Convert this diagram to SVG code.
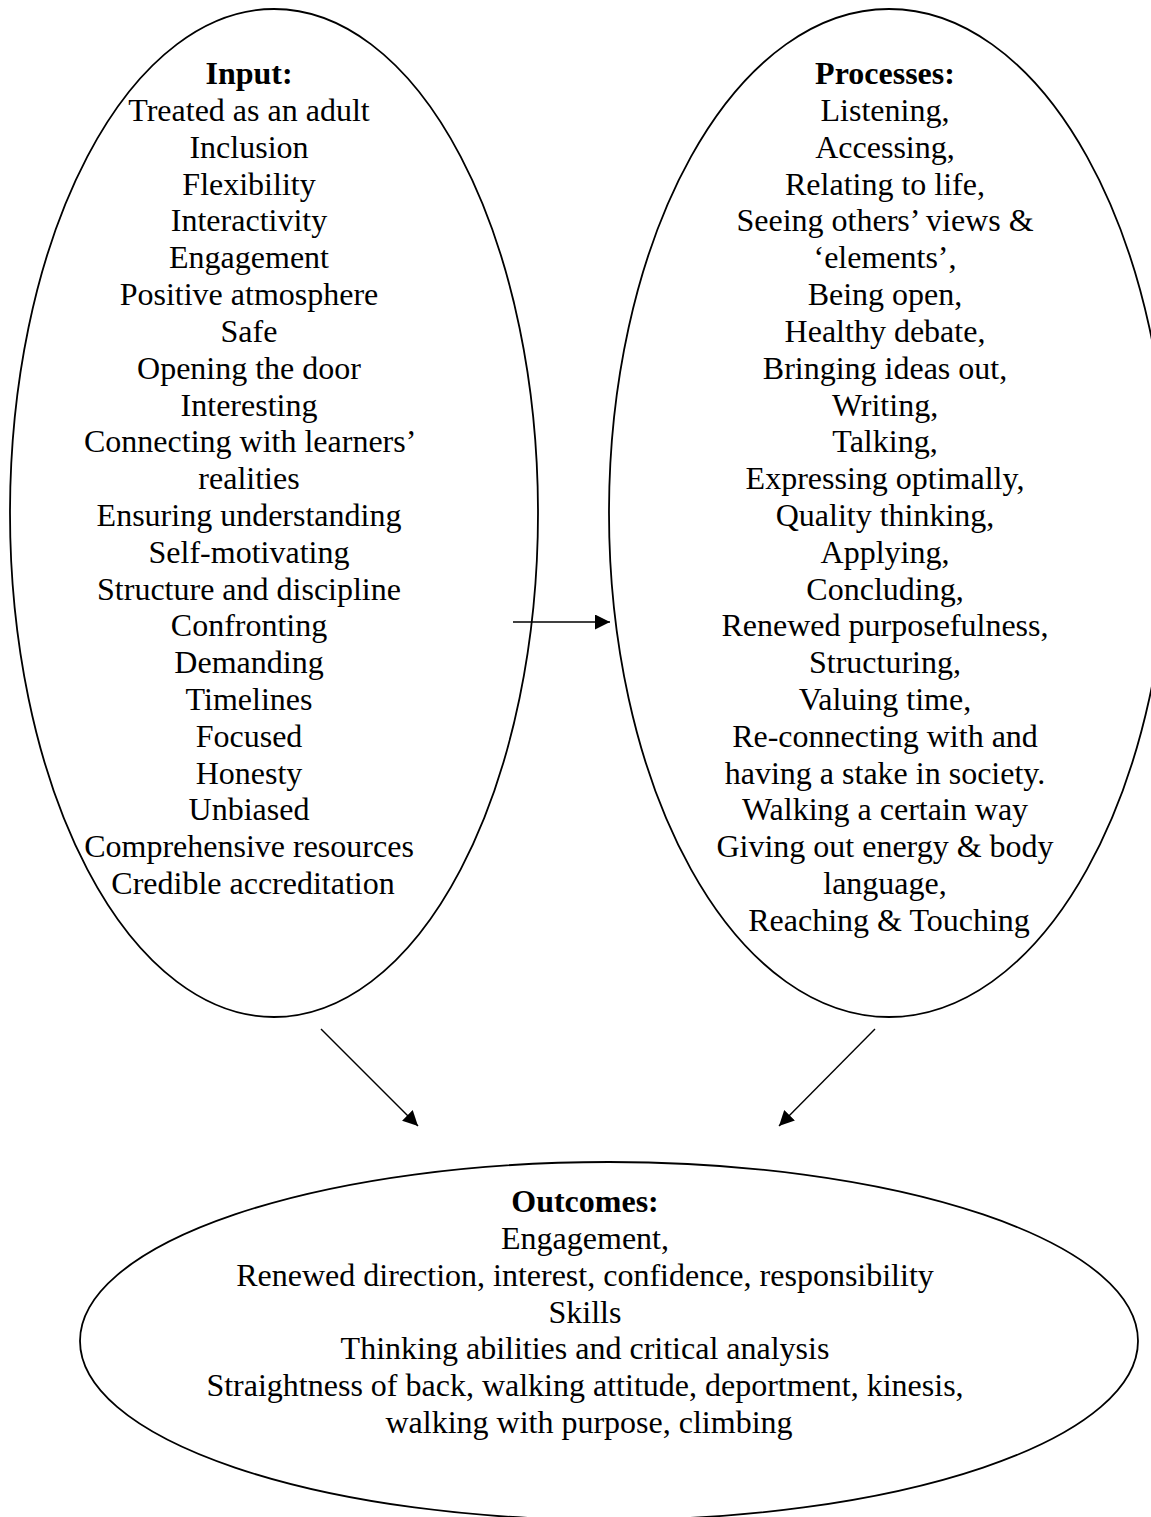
<svg xmlns="http://www.w3.org/2000/svg" width="1151" height="1517" viewBox="0 0 1151 1517">
<style>
.shape{fill:none;stroke:#000;stroke-width:1.8}
.t{font-family:"Liberation Serif","Times New Roman",serif;font-size:32px;fill:#000;text-anchor:middle}
.h{font-weight:bold}
.conn{stroke:#000;stroke-width:1.4;fill:none}
</style>
<defs>
<marker id="arr" viewBox="0 0 10 10" refX="10" refY="5" markerWidth="15" markerHeight="15" markerUnits="userSpaceOnUse" orient="auto">
<path d="M0,0 L10,5 L0,10 Z" fill="#000"/>
</marker>
</defs>
<rect width="1151" height="1517" fill="#fff"/>
<g id="input">
<ellipse class="shape" cx="274" cy="513" rx="264" ry="504"/>
<text class="t" x="253">
<tspan class="h" x="253" y="84">Input:</tspan>
<tspan x="253" y="121">Treated as an adult</tspan>
<tspan x="253" y="158">Inclusion</tspan>
<tspan x="253" y="195">Flexibility</tspan>
<tspan x="253" y="231">Interactivity</tspan>
<tspan x="253" y="268">Engagement</tspan>
<tspan x="253" y="305">Positive atmosphere</tspan>
<tspan x="253" y="342">Safe</tspan>
<tspan x="253" y="379">Opening the door</tspan>
<tspan x="253" y="416">Interesting</tspan>
<tspan x="253" y="452">Connecting with learners’</tspan>
<tspan x="253" y="489">realities</tspan>
<tspan x="253" y="526">Ensuring understanding</tspan>
<tspan x="253" y="563">Self-motivating</tspan>
<tspan x="253" y="600">Structure and discipline</tspan>
<tspan x="253" y="636">Confronting</tspan>
<tspan x="253" y="673">Demanding</tspan>
<tspan x="253" y="710">Timelines</tspan>
<tspan x="253" y="747">Focused</tspan>
<tspan x="253" y="784">Honesty</tspan>
<tspan x="253" y="820">Unbiased</tspan>
<tspan x="253" y="857">Comprehensive resources</tspan>
<tspan x="253" y="894">Credible accreditation</tspan>
</text>
</g>
<g id="processes">
<ellipse class="shape" cx="889" cy="513" rx="280" ry="504"/>
<text class="t" x="889">
<tspan class="h" x="889" y="84">Processes:</tspan>
<tspan x="889" y="121">Listening,</tspan>
<tspan x="889" y="158">Accessing,</tspan>
<tspan x="889" y="195">Relating to life,</tspan>
<tspan x="889" y="231">Seeing others’ views &amp;</tspan>
<tspan x="889" y="268">‘elements’,</tspan>
<tspan x="889" y="305">Being open,</tspan>
<tspan x="889" y="342">Healthy debate,</tspan>
<tspan x="889" y="379">Bringing ideas out,</tspan>
<tspan x="889" y="416">Writing,</tspan>
<tspan x="889" y="452">Talking,</tspan>
<tspan x="889" y="489">Expressing optimally,</tspan>
<tspan x="889" y="526">Quality thinking,</tspan>
<tspan x="889" y="563">Applying,</tspan>
<tspan x="889" y="600">Concluding,</tspan>
<tspan x="889" y="636">Renewed purposefulness,</tspan>
<tspan x="889" y="673">Structuring,</tspan>
<tspan x="889" y="710">Valuing time,</tspan>
<tspan x="889" y="747">Re-connecting with and</tspan>
<tspan x="889" y="784">having a stake in society.</tspan>
<tspan x="889" y="820">Walking a certain way</tspan>
<tspan x="889" y="857">Giving out energy &amp; body</tspan>
<tspan x="889" y="894">language,</tspan>
<tspan x="889" y="931">Reaching &amp; Touching</tspan>
</text>
</g>
<g id="outcomes">
<ellipse class="shape" cx="609" cy="1341" rx="529" ry="179"/>
<text class="t" x="589">
<tspan class="h" x="589" y="1212">Outcomes:</tspan>
<tspan x="589" y="1249">Engagement,</tspan>
<tspan x="589" y="1286">Renewed direction, interest, confidence, responsibility</tspan>
<tspan x="589" y="1323">Skills</tspan>
<tspan x="589" y="1359">Thinking abilities and critical analysis</tspan>
<tspan x="589" y="1396">Straightness of back, walking attitude, deportment, kinesis,</tspan>
<tspan x="589" y="1433">walking with purpose, climbing</tspan>
</text>
</g>
<g id="connectors">
<line class="conn" x1="513" y1="622" x2="610" y2="622" marker-end="url(#arr)"/>
<line class="conn" x1="321" y1="1029" x2="418" y2="1126" marker-end="url(#arr)"/>
<line class="conn" x1="875" y1="1029" x2="779" y2="1126" marker-end="url(#arr)"/>
</g>
</svg>
